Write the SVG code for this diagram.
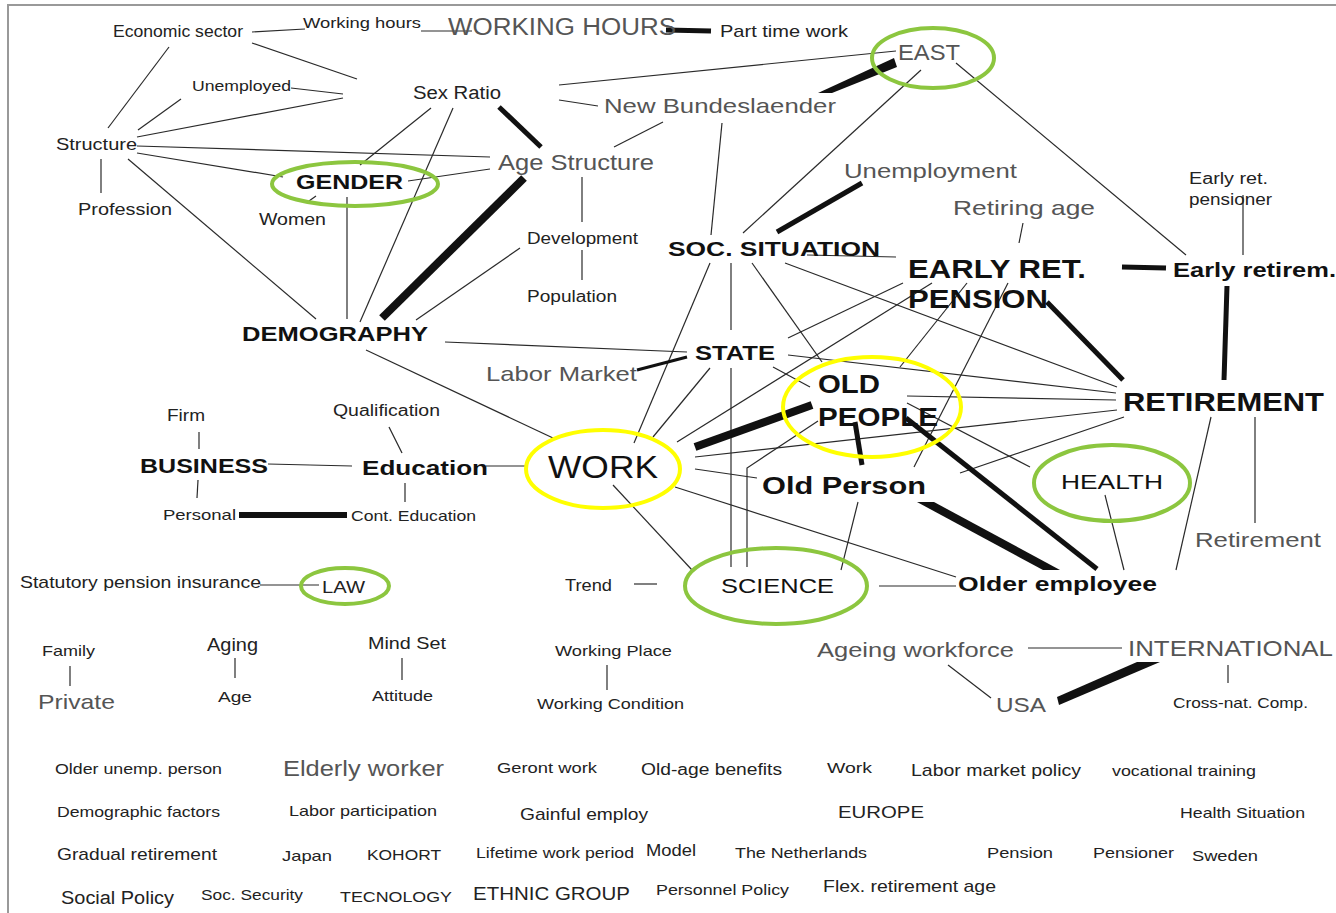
<svg xmlns="http://www.w3.org/2000/svg" width="1336" height="913" viewBox="0 0 1336 913">
<style>
.ln{stroke:#2a2a2a;stroke-width:1.2;fill:none}
.th{stroke:#111;fill:none;stroke-linecap:butt}
.tp{fill:#111;stroke:none}
text{font-family:"Liberation Sans",Arial,sans-serif;fill:#222}
.g{fill:#555}
.b{font-weight:bold;fill:#111}
.k{fill:#111}
.eg{fill:none;stroke:#8cc63f;stroke-width:4}
.ey{fill:none;stroke:#ffff00;stroke-width:4}
</style>
<rect x="0" y="0" width="1336" height="913" fill="#fff"/>
<g id="frame"><path d="M8,913 V5 H1336" fill="none" stroke="#999" stroke-width="2"/></g>
<g id="connectors">
<line class="ln" x1="252" y1="32" x2="305" y2="29"/>
<line class="ln" x1="421" y1="31" x2="472" y2="31"/>
<line class="ln" x1="169" y1="47" x2="108" y2="128"/>
<line class="ln" x1="252" y1="43" x2="357" y2="79"/>
<line class="ln" x1="291" y1="88" x2="343" y2="94"/>
<line class="ln" x1="181" y1="99" x2="138" y2="130"/>
<line class="ln" x1="137" y1="137" x2="343" y2="98"/>
<line class="ln" x1="137" y1="146" x2="490" y2="157"/>
<line class="ln" x1="137" y1="153" x2="283" y2="177"/>
<line class="ln" x1="128" y1="159" x2="316" y2="319"/>
<line class="ln" x1="101" y1="159" x2="101" y2="193"/>
<line class="ln" x1="431" y1="108" x2="360" y2="165"/>
<line class="ln" x1="453" y1="108" x2="360" y2="322"/>
<line class="ln" x1="408" y1="181" x2="490" y2="169"/>
<line class="ln" x1="316" y1="196" x2="309" y2="201"/>
<line class="ln" x1="347" y1="197" x2="347" y2="319"/>
<line class="ln" x1="520" y1="248" x2="416" y2="320"/>
<line class="ln" x1="582" y1="177" x2="582" y2="222"/>
<line class="ln" x1="582" y1="250" x2="582" y2="280"/>
<line class="ln" x1="559" y1="85" x2="896" y2="51"/>
<line class="ln" x1="559" y1="100" x2="598" y2="106"/>
<line class="ln" x1="663" y1="122" x2="614" y2="147"/>
<line class="ln" x1="445" y1="342" x2="687" y2="352"/>
<line class="ln" x1="366" y1="350" x2="553" y2="438"/>
<line class="ln" x1="722" y1="123" x2="711" y2="235"/>
<line class="ln" x1="921" y1="70" x2="743" y2="233"/>
<line class="ln" x1="956" y1="63" x2="1186" y2="255"/>
<line class="ln" x1="1023" y1="223" x2="1019" y2="243"/>
<line class="ln" x1="1243" y1="195" x2="1243" y2="255"/>
<line class="ln" x1="807" y1="255" x2="896" y2="257"/>
<line class="ln" x1="731" y1="263" x2="731" y2="330"/>
<line class="ln" x1="710" y1="263" x2="634" y2="443"/>
<line class="ln" x1="752" y1="263" x2="822" y2="362"/>
<line class="ln" x1="785" y1="263" x2="1117" y2="387"/>
<line class="ln" x1="710" y1="368" x2="653" y2="437"/>
<line class="ln" x1="731" y1="368" x2="731" y2="567"/>
<line class="ln" x1="773" y1="367" x2="810" y2="387"/>
<line class="ln" x1="788" y1="355" x2="1116" y2="393"/>
<line class="ln" x1="788" y1="338" x2="903" y2="283"/>
<line class="ln" x1="677" y1="442" x2="932" y2="283"/>
<polyline class="ln" points="747,567 747,468 818,421"/>
<line class="ln" x1="967" y1="283" x2="900" y2="367"/>
<line class="ln" x1="1008" y1="283" x2="914" y2="467"/>
<line class="ln" x1="695" y1="457" x2="1117" y2="410"/>
<line class="ln" x1="695" y1="469" x2="757" y2="478"/>
<line class="ln" x1="675" y1="487" x2="956" y2="577"/>
<line class="ln" x1="613" y1="485" x2="692" y2="570"/>
<line class="ln" x1="907" y1="396" x2="1116" y2="400"/>
<line class="ln" x1="907" y1="403" x2="1030" y2="467"/>
<line class="ln" x1="960" y1="473" x2="1124" y2="417"/>
<line class="ln" x1="858" y1="502" x2="841" y2="570"/>
<line class="ln" x1="879" y1="586" x2="956" y2="586"/>
<line class="ln" x1="634" y1="584" x2="657" y2="584"/>
<line class="ln" x1="1105" y1="495" x2="1124" y2="570"/>
<line class="ln" x1="1211" y1="417" x2="1176" y2="570"/>
<line class="ln" x1="1255" y1="417" x2="1255" y2="523"/>
<line class="ln" x1="268" y1="464" x2="352" y2="466"/>
<line class="ln" x1="486" y1="466" x2="527" y2="466"/>
<line class="ln" x1="199" y1="432" x2="199" y2="449"/>
<line class="ln" x1="198" y1="480" x2="197" y2="498"/>
<line class="ln" x1="389" y1="427" x2="402" y2="453"/>
<line class="ln" x1="405" y1="483" x2="405" y2="502"/>
<line class="ln" x1="260" y1="585" x2="319" y2="585"/>
<line class="ln" x1="70" y1="666" x2="70" y2="686"/>
<line class="ln" x1="235" y1="658" x2="235" y2="678"/>
<line class="ln" x1="402" y1="658" x2="402" y2="680"/>
<line class="ln" x1="607" y1="665" x2="607" y2="690"/>
<line class="ln" x1="1028" y1="648" x2="1122" y2="648"/>
<line class="ln" x1="948" y1="665" x2="991" y2="698"/>
<line class="ln" x1="1228" y1="665" x2="1228" y2="683"/>
<line class="th" stroke-width="5" x1="666" y1="30" x2="711" y2="31"/>
<polygon class="tp" points="818,93 894,58 897,67 832,93"/>
<line class="th" stroke-width="5" x1="499" y1="107" x2="541" y2="147"/>
<line class="th" stroke-width="8" x1="524" y1="178" x2="382" y2="318"/>
<line class="th" stroke-width="5" x1="862" y1="183" x2="777" y2="232"/>
<line class="th" stroke-width="5" x1="1122" y1="267" x2="1166" y2="268"/>
<line class="th" stroke-width="5" x1="1227" y1="286" x2="1224" y2="380"/>
<line class="th" stroke-width="5" x1="1047" y1="302" x2="1123" y2="380"/>
<line class="th" stroke-width="3" x1="637" y1="370" x2="687" y2="357"/>
<line class="th" stroke-width="8" x1="695" y1="447" x2="812" y2="405"/>
<line class="th" stroke-width="5" x1="855" y1="422" x2="862" y2="465"/>
<line class="th" stroke-width="5" x1="906" y1="418" x2="1097" y2="569"/>
<polygon class="tp" points="917,502 934,502 1060,570 1043,570"/>
<line class="th" stroke-width="6" x1="239" y1="515" x2="347" y2="515"/>
<polygon class="tp" points="1057,697 1137,662 1160,662 1059,705"/>
</g>
<g id="n-economic"><text x="113" y="37" font-size="16" textLength="130" lengthAdjust="spacingAndGlyphs">Economic sector</text></g>
<g id="n-workinghours"><text x="303" y="28" font-size="15" textLength="118" lengthAdjust="spacingAndGlyphs">Working hours</text></g>
<g id="n-WORKINGHOURS"><text class="g" x="448" y="35" font-size="23" textLength="228" lengthAdjust="spacingAndGlyphs">WORKING HOURS</text></g>
<g id="n-parttime"><text x="720" y="37" font-size="17" textLength="128" lengthAdjust="spacingAndGlyphs">Part time work</text></g>
<g id="n-east"><text class="g" x="898" y="60" font-size="22" textLength="62" lengthAdjust="spacingAndGlyphs">EAST</text><ellipse class="eg" cx="933" cy="58" rx="61" ry="30"/></g>
<g id="n-unemployed"><text x="192" y="91" font-size="15" textLength="99" lengthAdjust="spacingAndGlyphs">Unemployed</text></g>
<g id="n-sexratio"><text x="413" y="99" font-size="18" textLength="88" lengthAdjust="spacingAndGlyphs">Sex Ratio</text></g>
<g id="n-newb"><text class="g" x="604" y="113" font-size="21" textLength="232" lengthAdjust="spacingAndGlyphs">New Bundeslaender</text></g>
<g id="n-structure"><text x="56" y="150" font-size="17" textLength="81" lengthAdjust="spacingAndGlyphs">Structure</text></g>
<g id="n-agestructure"><text class="g" x="498" y="170" font-size="22" textLength="156" lengthAdjust="spacingAndGlyphs">Age Structure</text></g>
<g id="n-gender"><text class="b" x="296" y="189" font-size="20" textLength="107" lengthAdjust="spacingAndGlyphs">GENDER</text><ellipse class="eg" cx="355" cy="184" rx="83" ry="22"/></g>
<g id="n-profession"><text x="78" y="215" font-size="17" textLength="94" lengthAdjust="spacingAndGlyphs">Profession</text></g>
<g id="n-women"><text x="259" y="225" font-size="16" textLength="67" lengthAdjust="spacingAndGlyphs">Women</text></g>
<g id="n-unemployment"><text class="g" x="844" y="178" font-size="21" textLength="173" lengthAdjust="spacingAndGlyphs">Unemployment</text></g>
<g id="n-earlyretpens"><text x="1189" y="184" font-size="16" textLength="79" lengthAdjust="spacingAndGlyphs">Early ret.</text><text x="1189" y="205" font-size="16" textLength="83" lengthAdjust="spacingAndGlyphs">pensioner</text></g>
<g id="n-retiringage"><text class="g" x="953" y="215" font-size="21" textLength="142" lengthAdjust="spacingAndGlyphs">Retiring age</text></g>
<g id="n-development"><text x="527" y="244" font-size="16" textLength="111" lengthAdjust="spacingAndGlyphs">Development</text></g>
<g id="n-soc"><text class="b" x="668" y="256" font-size="21" textLength="212" lengthAdjust="spacingAndGlyphs">SOC. SITUATION</text></g>
<g id="n-earlyret"><text class="b" x="908" y="278" font-size="26" textLength="178" lengthAdjust="spacingAndGlyphs">EARLY RET.</text><text class="b" x="908" y="308" font-size="26" textLength="140" lengthAdjust="spacingAndGlyphs">PENSION</text></g>
<g id="n-earlyretirem"><text class="b" x="1173" y="277" font-size="20" textLength="163" lengthAdjust="spacingAndGlyphs">Early retirem.</text></g>
<g id="n-population"><text x="527" y="302" font-size="16" textLength="90" lengthAdjust="spacingAndGlyphs">Population</text></g>
<g id="n-demography"><text class="b" x="242" y="341" font-size="21" textLength="186" lengthAdjust="spacingAndGlyphs">DEMOGRAPHY</text></g>
<g id="n-state"><text class="b" x="695" y="360" font-size="21" textLength="80" lengthAdjust="spacingAndGlyphs">STATE</text></g>
<g id="n-labormarket"><text class="g" x="486" y="381" font-size="21" textLength="151" lengthAdjust="spacingAndGlyphs">Labor Market</text></g>
<g id="n-oldpeople"><text class="b" x="818" y="393" font-size="26" textLength="62" lengthAdjust="spacingAndGlyphs">OLD</text><text class="b" x="818" y="426" font-size="26" textLength="120" lengthAdjust="spacingAndGlyphs">PEOPLE</text><ellipse class="ey" cx="872" cy="407" rx="89" ry="50"/></g>
<g id="n-retirement"><text class="b" x="1123" y="411" font-size="26" textLength="201" lengthAdjust="spacingAndGlyphs">RETIREMENT</text></g>
<g id="n-firm"><text x="167" y="421" font-size="16" textLength="38" lengthAdjust="spacingAndGlyphs">Firm</text></g>
<g id="n-qualification"><text x="333" y="416" font-size="16" textLength="107" lengthAdjust="spacingAndGlyphs">Qualification</text></g>
<g id="n-business"><text class="b" x="140" y="473" font-size="20" textLength="128" lengthAdjust="spacingAndGlyphs">BUSINESS</text></g>
<g id="n-education"><text class="b" x="362" y="475" font-size="20" textLength="126" lengthAdjust="spacingAndGlyphs">Education</text></g>
<g id="n-work"><text class="k" x="548" y="478" font-size="32" textLength="110" lengthAdjust="spacingAndGlyphs">WORK</text><ellipse class="ey" cx="603" cy="469" rx="77" ry="39"/></g>
<g id="n-oldperson"><text class="b" x="762" y="494" font-size="24" textLength="164" lengthAdjust="spacingAndGlyphs">Old Person</text></g>
<g id="n-health"><text class="k" x="1061" y="489" font-size="21" textLength="102" lengthAdjust="spacingAndGlyphs">HEALTH</text><ellipse class="eg" cx="1112" cy="483" rx="78" ry="38"/></g>
<g id="n-personal"><text x="163" y="520" font-size="15" textLength="73" lengthAdjust="spacingAndGlyphs">Personal</text></g>
<g id="n-conted"><text x="351" y="521" font-size="15" textLength="125" lengthAdjust="spacingAndGlyphs">Cont. Education</text></g>
<g id="n-retirement2"><text class="g" x="1195" y="547" font-size="21" textLength="126" lengthAdjust="spacingAndGlyphs">Retirement</text></g>
<g id="n-statutory"><text x="20" y="588" font-size="17" textLength="241" lengthAdjust="spacingAndGlyphs">Statutory pension insurance</text></g>
<g id="n-law"><text x="322" y="593" font-size="17" textLength="43" lengthAdjust="spacingAndGlyphs">LAW</text><ellipse class="eg" cx="345" cy="586" rx="44" ry="18"/></g>
<g id="n-trend"><text x="565" y="591" font-size="16" textLength="47" lengthAdjust="spacingAndGlyphs">Trend</text></g>
<g id="n-science"><text class="k" x="721" y="593" font-size="21" textLength="113" lengthAdjust="spacingAndGlyphs">SCIENCE</text><ellipse class="eg" cx="776" cy="586" rx="91" ry="38"/></g>
<g id="n-olderemployee"><text class="b" x="958" y="591" font-size="20" textLength="199" lengthAdjust="spacingAndGlyphs">Older employee</text></g>
<g id="n-family"><text x="42" y="656" font-size="15" textLength="53" lengthAdjust="spacingAndGlyphs">Family</text></g>
<g id="n-aging"><text x="207" y="651" font-size="18" textLength="51" lengthAdjust="spacingAndGlyphs">Aging</text></g>
<g id="n-mindset"><text x="368" y="649" font-size="17" textLength="78" lengthAdjust="spacingAndGlyphs">Mind Set</text></g>
<g id="n-workingplace"><text x="555" y="656" font-size="15" textLength="117" lengthAdjust="spacingAndGlyphs">Working Place</text></g>
<g id="n-ageingworkforce"><text class="g" x="817" y="657" font-size="21" textLength="197" lengthAdjust="spacingAndGlyphs">Ageing workforce</text></g>
<g id="n-international"><text class="g" x="1128" y="656" font-size="22" textLength="205" lengthAdjust="spacingAndGlyphs">INTERNATIONAL</text></g>
<g id="n-private"><text class="g" x="38" y="709" font-size="21" textLength="77" lengthAdjust="spacingAndGlyphs">Private</text></g>
<g id="n-age"><text x="218" y="702" font-size="15" textLength="34" lengthAdjust="spacingAndGlyphs">Age</text></g>
<g id="n-attitude"><text x="372" y="701" font-size="15" textLength="61" lengthAdjust="spacingAndGlyphs">Attitude</text></g>
<g id="n-workingcondition"><text x="537" y="709" font-size="15" textLength="147" lengthAdjust="spacingAndGlyphs">Working Condition</text></g>
<g id="n-usa"><text class="g" x="996" y="712" font-size="21" textLength="50" lengthAdjust="spacingAndGlyphs">USA</text></g>
<g id="n-crossnat"><text x="1173" y="708" font-size="15" textLength="135" lengthAdjust="spacingAndGlyphs">Cross-nat. Comp.</text></g>
<g id="n-list">
<text x="55" y="774" font-size="15" textLength="167" lengthAdjust="spacingAndGlyphs">Older unemp. person</text>
<text class="g" x="283" y="776" font-size="22" textLength="161" lengthAdjust="spacingAndGlyphs">Elderly worker</text>
<text x="497" y="773" font-size="15" textLength="100" lengthAdjust="spacingAndGlyphs">Geront work</text>
<text x="641" y="775" font-size="16" textLength="141" lengthAdjust="spacingAndGlyphs">Old-age benefits</text>
<text x="827" y="773" font-size="15" textLength="45" lengthAdjust="spacingAndGlyphs">Work</text>
<text x="911" y="776" font-size="17" textLength="170" lengthAdjust="spacingAndGlyphs">Labor market policy</text>
<text x="1112" y="776" font-size="15" textLength="144" lengthAdjust="spacingAndGlyphs">vocational training</text>
<text x="57" y="817" font-size="15" textLength="163" lengthAdjust="spacingAndGlyphs">Demographic factors</text>
<text x="289" y="816" font-size="15" textLength="148" lengthAdjust="spacingAndGlyphs">Labor participation</text>
<text x="520" y="820" font-size="17" textLength="128" lengthAdjust="spacingAndGlyphs">Gainful employ</text>
<text x="838" y="818" font-size="17" textLength="86" lengthAdjust="spacingAndGlyphs">EUROPE</text>
<text x="1180" y="818" font-size="15" textLength="125" lengthAdjust="spacingAndGlyphs">Health Situation</text>
<text x="57" y="860" font-size="17" textLength="160" lengthAdjust="spacingAndGlyphs">Gradual retirement</text>
<text x="282" y="861" font-size="15" textLength="50" lengthAdjust="spacingAndGlyphs">Japan</text>
<text x="367" y="860" font-size="15" textLength="74" lengthAdjust="spacingAndGlyphs">KOHORT</text>
<text x="476" y="858" font-size="15" textLength="158" lengthAdjust="spacingAndGlyphs">Lifetime work period</text>
<text x="646" y="856" font-size="17" textLength="50" lengthAdjust="spacingAndGlyphs">Model</text>
<text x="735" y="858" font-size="15" textLength="132" lengthAdjust="spacingAndGlyphs">The Netherlands</text>
<text x="987" y="858" font-size="15" textLength="66" lengthAdjust="spacingAndGlyphs">Pension</text>
<text x="1093" y="858" font-size="15" textLength="81" lengthAdjust="spacingAndGlyphs">Pensioner</text>
<text x="1192" y="861" font-size="15" textLength="66" lengthAdjust="spacingAndGlyphs">Sweden</text>
<text x="61" y="904" font-size="18" textLength="113" lengthAdjust="spacingAndGlyphs">Social Policy</text>
<text x="201" y="900" font-size="15" textLength="102" lengthAdjust="spacingAndGlyphs">Soc. Security</text>
<text x="340" y="902" font-size="15" textLength="112" lengthAdjust="spacingAndGlyphs">TECNOLOGY</text>
<text x="473" y="900" font-size="18" textLength="157" lengthAdjust="spacingAndGlyphs">ETHNIC GROUP</text>
<text x="656" y="895" font-size="15" textLength="133" lengthAdjust="spacingAndGlyphs">Personnel Policy</text>
<text x="823" y="892" font-size="17" textLength="173" lengthAdjust="spacingAndGlyphs">Flex. retirement age</text>
</g>
</svg>
